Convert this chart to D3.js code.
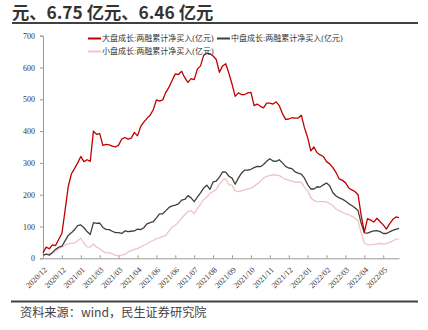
<!DOCTYPE html>
<html><head><meta charset="utf-8">
<script src="https://cdn.jsdelivr.net/npm/d3@7"></script>
<style>
html,body{margin:0;padding:0;background:#fff;}
svg{display:block;}
</style></head>
<body>
<svg id="c" width="428" height="330"></svg>
<script>
const titleLine = "元、6.75 亿元、6.46 亿元";
const sourceText = "资料来源：wind，民生证券研究院";
const seriesNames = ["大盘成长:两融累计净买入(亿元)", "中盘成长:两融累计净买入(亿元)", "小盘成长:两融累计净买入(亿元)"];
const xLabels = ["2020/12","2020/12","2021/01","2021/03","2021/03","2021/04","2021/06","2021/06","2021/07","2021/08","2021/09","2021/10","2021/11","2021/12","2022/01","2022/02","2022/03","2022/04","2022/05"];
const yTicks = [0,100,200,300,400,500,600,700];

const largeGrowth = [17,35,30,42,40,60,78,150,225,265,282,300,320,304,310,305,400,390,392,355,
358,357,353,350,356,375,380,375,378,396,385,414,428,440,450,467,498,494,498,522,
538,560,580,578,588,568,553,565,562,595,605,638,645,643,636,625,585,605,612,582,
548,509,520,515,515,520,522,480,485,478,473,488,488,485,492,480,455,437,438,442,
441,441,450,410,380,338,350,332,325,320,304,297,285,270,250,245,238,222,215,210,
200,135,82,125,120,114,126,115,105,92,108,122,130,128];

const midGrowth = [10,13,10,18,28,35,38,55,72,80,90,103,105,96,84,75,112,110,111,97,
91,90,85,81,81,78,86,84,85,86,92,90,96,108,112,115,127,140,140,150,
160,165,167,171,183,185,197,190,178,192,206,221,230,217,240,243,255,272,271,258,
252,233,252,268,277,277,280,285,289,288,295,305,313,306,305,310,300,289,284,282,
272,268,265,252,232,218,218,225,224,231,237,228,207,196,190,186,180,172,166,159,
150,110,80,79,83,86,87,84,78,78,83,88,91,94];

const smallGrowth = [7,12,14,17,24,30,35,42,46,47,48,55,63,48,36,35,45,35,30,22,
17,18,14,9,8,10,12,20,24,28,30,36,41,45,52,56,62,64,69,72,
86,98,104,114,126,137,147,150,140,157,170,185,192,204,210,217,233,246,250,232,
230,212,210,212,215,218,220,227,234,242,252,258,261,262,262,260,254,248,246,243,
240,240,239,224,212,190,182,178,178,178,177,172,165,155,150,145,140,137,132,127,
118,80,48,43,42,44,45,47,45,46,50,55,60,60];

const colors = ["#C00000", "#404040", "#F0C4C4"];

const svg = d3.select("#c");
const n = largeGrowth.length;
const x = d3.scaleLinear().domain([0, n - 1]).range([43, 399]);
const y = d3.scaleLinear().domain([0, 700]).range([258.3, 35.7]);

// title fragment
svg.append("text").attr("x", 12).attr("y", 19)
  .attr("font-family", "'Noto Sans CJK SC', sans-serif").attr("font-weight", "bold")
  .attr("font-size", 17.3).attr("fill", "#333").text(titleLine);
svg.append("line").attr("x1", 12).attr("x2", 418).attr("y1", 23).attr("y2", 23)
  .attr("stroke", "#404040").attr("stroke-width", 2);

// axes
const yAxis = svg.append("g").attr("transform", "translate(43,0)")
  .call(d3.axisLeft(y).tickValues(yTicks).tickSize(3).tickPadding(5).tickFormat(d3.format("d")));
yAxis.selectAll("text").attr("font-family", "'Liberation Serif', serif").attr("font-size", 8).attr("fill", "#333");
yAxis.selectAll("path,line").attr("stroke", "#999");

const xAxis = svg.append("g").attr("transform", "translate(0,258.3)")
  .call(d3.axisBottom(x).tickValues(d3.range(0, n, 6)).tickSize(-3).tickSizeOuter(0)
    .tickFormat((d, i) => xLabels[i]));
xAxis.selectAll("path,line").attr("stroke", "#999");
xAxis.selectAll("text")
  .attr("font-family", "'Liberation Serif', serif").attr("font-size", 8).attr("fill", "#333")
  .attr("text-anchor", "end").attr("x", 0).attr("y", 0).attr("dy", "0.35em")
  .attr("transform", "translate(2,10) rotate(-45)");

// lines
const line = d3.line().x((d, i) => x(i)).y(d => y(d));
const seriesData = [smallGrowth, midGrowth, largeGrowth];
const seriesColors = [colors[2], colors[1], colors[0]];
seriesData.forEach((s, k) => {
  svg.append("path").datum(s).attr("fill", "none").attr("stroke", seriesColors[k])
    .attr("stroke-width", 1.3).attr("stroke-linejoin", "round").attr("d", line);
});

// legend
const legendItems = [
  {name: seriesNames[0], color: colors[0], x: 88, y: 38.5},
  {name: seriesNames[1], color: colors[1], x: 217, y: 38.5},
  {name: seriesNames[2], color: colors[2], x: 88, y: 51.5}
];
const lg = svg.append("g");
legendItems.forEach(it => {
  lg.append("line").attr("x1", it.x).attr("x2", it.x + 13).attr("y1", it.y).attr("y2", it.y)
    .attr("stroke", it.color).attr("stroke-width", 2);
  lg.append("text").attr("x", it.x + 14).attr("y", it.y).attr("dy", "0.35em")
    .attr("font-family", "'Liberation Serif', 'Noto Sans CJK SC', serif").attr("font-size", 8)
    .attr("fill", "#333").text(it.name);
});

// footer
svg.append("line").attr("x1", 11).attr("x2", 418).attr("y1", 301.5).attr("y2", 301.5)
  .attr("stroke", "#404040").attr("stroke-width", 2);
svg.append("text").attr("x", 20).attr("y", 317)
  .attr("font-family", "'Noto Sans CJK SC', sans-serif").attr("font-size", 12.2)
  .attr("fill", "#444").text(sourceText);
</script>
</body></html>
